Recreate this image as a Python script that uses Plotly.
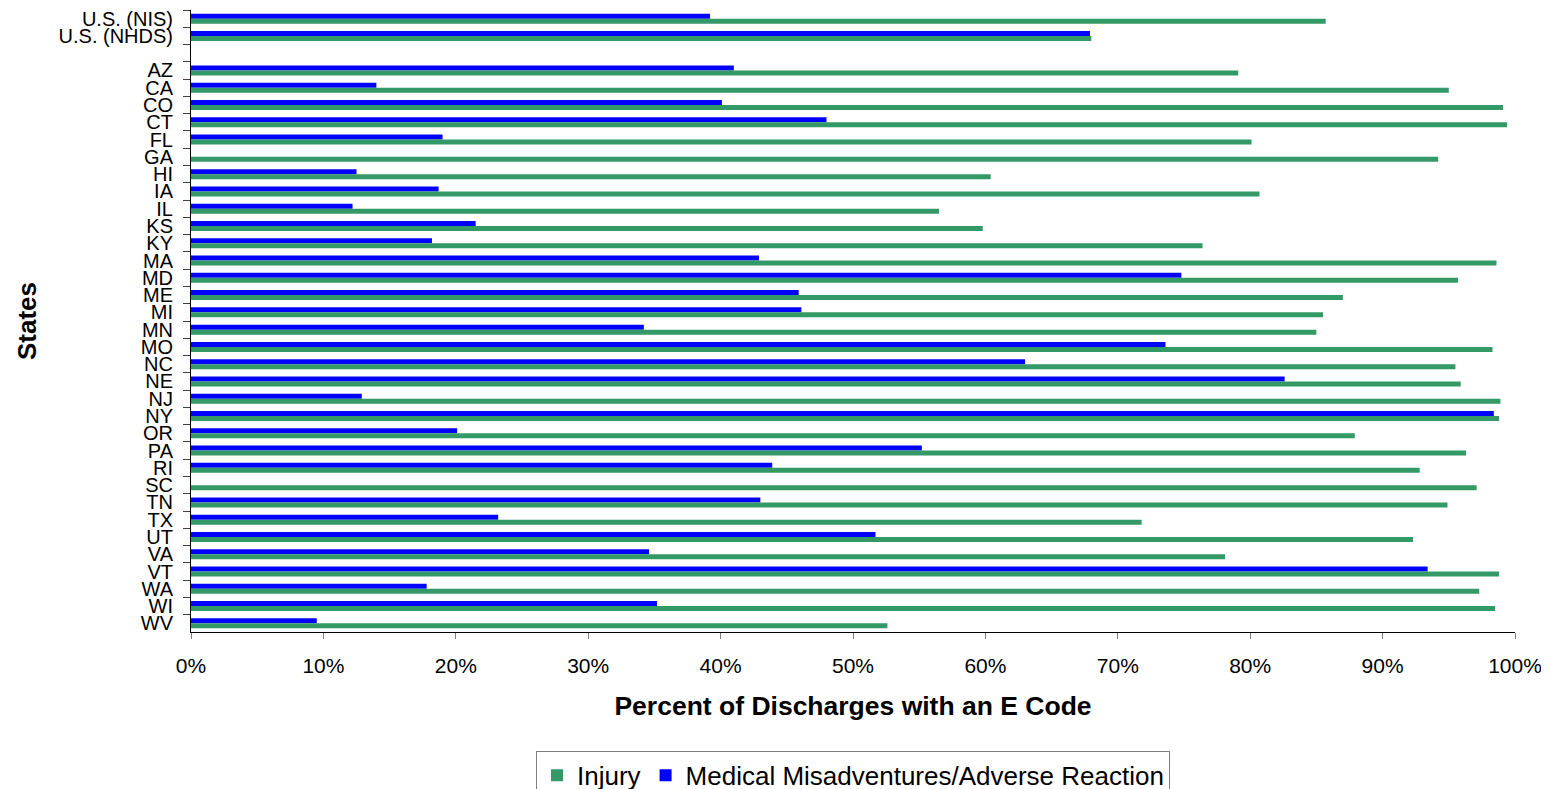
import plotly.graph_objects as go

categories = ["U.S. (NIS)", "U.S. (NHDS)", " ", "AZ", "CA", "CO", "CT", "FL", "GA", "HI", "IA", "IL",
              "KS", "KY", "MA", "MD", "ME", "MI", "MN", "MO", "NC", "NE", "NJ", "NY", "OR",
              "PA", "RI", "SC", "TN", "TX", "UT", "VA", "VT", "WA", "WI", "WV"]

injury = [85.7, 68.0, None, 79.1, 95.0, 99.1, 99.4, 80.1, 94.2, 60.4, 80.7, 56.5,
          59.8, 76.4, 98.6, 95.7, 87.0, 85.5, 85.0, 98.3, 95.5, 95.9, 98.9, 98.8, 87.9,
          96.3, 92.8, 97.1, 94.9, 71.8, 92.3, 78.1, 98.8, 97.3, 98.5, 52.6]

medical = [39.2, 67.9, None, 41.0, 14.0, 40.1, 48.0, 19.0, None, 12.5, 18.7, 12.2,
           21.5, 18.2, 42.9, 74.8, 45.9, 46.1, 34.2, 73.6, 63.0, 82.6, 12.9, 98.4, 20.1,
           55.2, 43.9, None, 43.0, 23.2, 51.7, 34.6, 93.4, 17.8, 35.2, 9.5]

x_ticks = [0, 10, 20, 30, 40, 50, 60, 70, 80, 90, 100]
x_tick_labels = [f"{v}%" for v in x_ticks]

FONT = "Liberation Sans, Arial, sans-serif"

fig = go.Figure()
fig.add_trace(go.Bar(
    y=categories, x=medical, orientation="h",
    name="Medical Misadventures/Adverse Reaction",
    marker=dict(color="#0000FF", line=dict(width=0)),
    legendrank=2,
))
fig.add_trace(go.Bar(
    y=categories, x=injury, orientation="h",
    name="Injury",
    marker=dict(color="#339966", line=dict(width=0)),
    legendrank=1,
))

fig.update_layout(
    width=1549, height=805,
    margin=dict(l=183, r=42, t=2, b=181),
    paper_bgcolor="white", plot_bgcolor="white",
    barmode="group", bargap=0.42, bargroupgap=0,
    font=dict(family=FONT, color="black"),
    showlegend=True,
    legend=dict(
        orientation="h", x=0.5, xanchor="center", y=-0.191, yanchor="top",
        font=dict(size=26, family=FONT, color="black"),
        bordercolor="#808080", borderwidth=1, bgcolor="white",
        traceorder="normal",
    ),
    xaxis=dict(
        range=[0, 100], tickvals=x_ticks, ticktext=x_tick_labels,
        showgrid=False, zeroline=False, automargin=False,
        showline=True, linecolor="black", linewidth=1,
        ticks="outside", ticklen=6, tickcolor="#808080",
        ticklabelstandoff=9,
        tickfont=dict(size=21, family=FONT),
        title=dict(text="<b>Percent of Discharges with an E Code</b>",
                   font=dict(size=26.5, family=FONT), standoff=20),
    ),
    yaxis=dict(
        type="category", categoryorder="array", categoryarray=categories,
        autorange="reversed", tickmode="linear", tick0=0, dtick=1,
        showgrid=False, zeroline=False, automargin=False,
        showline=True, linecolor="black", linewidth=1,
        ticks="outside", ticklen=7, tickcolor="#404040", tickson="boundaries",
        ticklabelstandoff=13,
        tickfont=dict(size=20, family=FONT),
        title=dict(text="<b>States</b>", font=dict(size=26, family=FONT), standoff=14),
    ),
)

fig.write_html("out.html")
